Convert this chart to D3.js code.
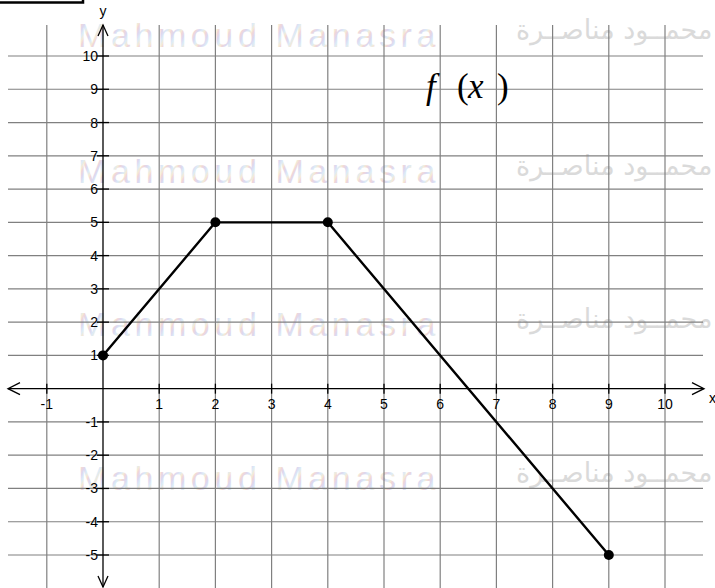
<!DOCTYPE html>
<html>
<head>
<meta charset="utf-8">
<script src="https://cdn.jsdelivr.net/npm/d3@7"></script>
<style>
  html, body { margin: 0; padding: 0; background: #fff; }
  svg { display: block; }
</style>
</head>
<body>
<svg id="chart" width="715" height="588"></svg>
<script>
// Piecewise-linear function f(x)
const xs = [0, 2, 4, 9];
const ys = [1, 5, 5, -5];

// Grid / tick values
const xTicks = [-1, 0, 1, 2, 3, 4, 5, 6, 7, 8, 9, 10];
const yTicks = [-5, -4, -3, -2, -1, 0, 1, 2, 3, 4, 5, 6, 7, 8, 9, 10];
const xTickLabels = ["-1", "", "1", "2", "3", "4", "5", "6", "7", "8", "9", "10"];
const yTickLabels = ["-5", "-4", "-3", "-2", "-1", "", "1", "2", "3", "4", "5", "6", "7", "8", "9", "10"];

// Background watermark text rows
const markRows = [47, 183, 336, 490];
const markLatin = "Mahmoud Manasra";
const markArabic = "محمــود مناصــرة";

const svg = d3.select("#chart");

const x = d3.scaleLinear().domain([-1, 10]).range([46.8, 665]);
const y = d3.scaleLinear().domain([-5, 10]).range([555, 56]);

// pastel multi-colour fill used for the watermark lettering
const defs = svg.append("defs");
const grad = defs.append("linearGradient")
  .attr("id", "pastel")
  .attr("gradientUnits", "userSpaceOnUse")
  .attr("x1", 0).attr("y1", 0).attr("x2", 9).attr("y2", 5)
  .attr("spreadMethod", "repeat");
[["0%", "#f1d6d8"], ["30%", "#dcd8f0"], ["60%", "#dcecf7"], ["85%", "#f4ead4"], ["100%", "#f1d6d8"]]
  .forEach(([o, c]) => grad.append("stop").attr("offset", o).attr("stop-color", c));

// watermark layer
const wm = svg.append("g");
markRows.forEach(b => {
  wm.append("text")
    .attr("x", 78).attr("y", b)
    .attr("font-family", "'Liberation Sans', Arial, sans-serif")
    .attr("font-size", 34)
    .attr("letter-spacing", 4.6)
    .attr("fill", "url(#pastel)")
    .text(markLatin);
  wm.append("text")
    .attr("x", 516).attr("y", b - 8)
    .attr("font-family", "'DejaVu Sans', sans-serif")
    .attr("font-size", 27)
    .attr("direction", "rtl")
    .attr("text-anchor", "end")
    .attr("fill", "#dadada")
    .text(markArabic);
});

// grid
const gridColor = "#808080";
const gx0 = 8, gx1 = 703, gy0 = 25, gy1 = 588;
svg.append("g").selectAll("line").data(xTicks.filter(d => d !== 0)).join("line")
  .attr("x1", d => x(d)).attr("x2", d => x(d))
  .attr("y1", gy0).attr("y2", gy1)
  .attr("stroke", gridColor).attr("stroke-width", 1.2);
svg.append("g").selectAll("line").data(yTicks.filter(d => d !== 0)).join("line")
  .attr("y1", d => y(d)).attr("y2", d => y(d))
  .attr("x1", gx0).attr("x2", gx1)
  .attr("stroke", gridColor).attr("stroke-width", 1.2);

// axes with open arrow heads
const ax = svg.append("g").attr("stroke", "#000").attr("stroke-width", 1.3).attr("fill", "none");
const x0 = x(0), y0 = y(0);
ax.append("line").attr("x1", 8).attr("x2", 704).attr("y1", y0).attr("y2", y0);
ax.append("line").attr("x1", x0).attr("x2", x0).attr("y1", 25).attr("y2", 587);
ax.append("path").attr("d", `M${692},${y0 - 6}L${704},${y0}L${692},${y0 + 6}`);
ax.append("path").attr("d", `M${20},${y0 - 6}L${8},${y0}L${20},${y0 + 6}`);
ax.append("path").attr("d", `M${x0 - 5},${36}L${x0},${25}L${x0 + 5},${36}`);
ax.append("path").attr("d", `M${x0 - 5},${576}L${x0},${587}L${x0 + 5},${576}`);

// tick marks
ax.append("g").selectAll("line").data(xTicks.filter(d => d !== 0)).join("line")
  .attr("x1", d => x(d)).attr("x2", d => x(d))
  .attr("y1", y0 - 5).attr("y2", y0 + 5);
ax.append("g").selectAll("line").data(yTicks.filter(d => d !== 0)).join("line")
  .attr("y1", d => y(d)).attr("y2", d => y(d))
  .attr("x1", x0 - 6).attr("x2", x0 + 6);

// tick labels
const lab = svg.append("g")
  .attr("font-family", "'Liberation Sans', Arial, sans-serif")
  .attr("font-size", 14).attr("fill", "#000");
lab.selectAll(".xl").data(xTicks).join("text")
  .attr("class", "xl")
  .attr("x", d => x(d)).attr("y", y0 + 20)
  .attr("text-anchor", "middle")
  .text((d, i) => xTickLabels[i]);
lab.selectAll(".yl").data(yTicks).join("text")
  .attr("class", "yl")
  .attr("x", x0 - 5).attr("y", d => y(d) + 5)
  .attr("text-anchor", "end")
  .text((d, i) => yTickLabels[i]);
lab.append("text").attr("x", x0).attr("y", 16).attr("text-anchor", "middle").text("y");
lab.append("text").attr("x", 709).attr("y", 403).text("x");

// function graph
const pts = xs.map((v, i) => [v, ys[i]]);
svg.append("path")
  .datum(pts)
  .attr("d", d3.line().x(d => x(d[0])).y(d => y(d[1])))
  .attr("fill", "none").attr("stroke", "#000").attr("stroke-width", 2.4)
  .attr("stroke-linejoin", "round");
svg.append("g").selectAll("circle").data(pts).join("circle")
  .attr("cx", d => x(d[0])).attr("cy", d => y(d[1])).attr("r", 5)
  .attr("fill", "#000");

// f(x) caption
const cap = svg.append("g")
  .attr("font-family", "'Liberation Serif', 'Times New Roman', serif")
  .attr("font-size", 35).attr("fill", "#000");
cap.append("text").attr("x", 426).attr("y", 98).attr("font-style", "italic").text("f");
cap.append("text").attr("x", 457).attr("y", 98).text("(");
cap.append("text").attr("x", 468).attr("y", 98).attr("font-style", "italic").text("x");
cap.append("text").attr("x", 497).attr("y", 98).text(")");

// corner of the title frame at the top left
svg.append("rect")
  .attr("x", -10).attr("y", -30).attr("width", 93).attr("height", 32.5)
  .attr("fill", "none").attr("stroke", "#000").attr("stroke-width", 2.5);
</script>
</body>
</html>
